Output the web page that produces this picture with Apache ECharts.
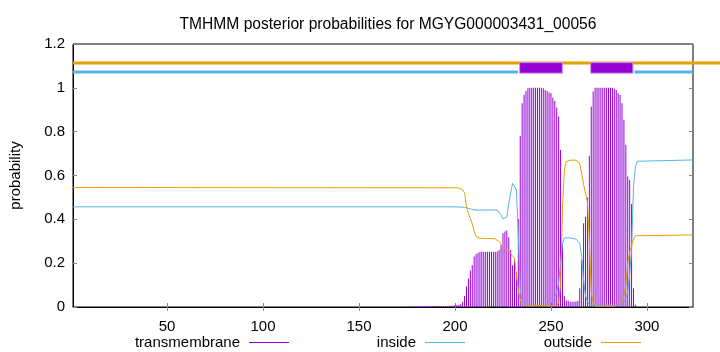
<!DOCTYPE html>
<html>
<head>
<meta charset="utf-8">
<script src="https://cdn.jsdelivr.net/npm/echarts@6/dist/echarts.min.js"></script>
<style>
  html, body { margin: 0; padding: 0; background: #fff; }
  #chart { width: 720px; height: 352px; }
</style>
</head>
<body>
<div id="chart"></div>
<script>
// posiciones (residuos) y probabilidades
var xTicks = [50, 100, 150, 200, 250, 300];

// probabilidad transmembrana por residuo (solo los no nulos)
var tmProb = [
  [175, 0.002], [176, 0.002], [177, 0.002], [178, 0.002], [179, 0.002], [180, 0.003],
  [181, 0.003], [182, 0.003], [183, 0.003], [184, 0.003], [185, 0.003], [186, 0.003],
  [187, 0.004], [188, 0.004], [189, 0.004], [190, 0.004], [191, 0.004], [192, 0.004],
  [193, 0.005], [194, 0.005], [195, 0.005], [196, 0.005], [197, 0.006], [198, 0.006],
  [199, 0.007], [200, 0.008], [201, 0.009], [202, 0.010], [203, 0.012], [204, 0.024],
  [205, 0.050], [206, 0.093], [207, 0.130], [208, 0.166], [209, 0.190], [210, 0.230],
  [211, 0.242], [212, 0.248], [213, 0.252], [214, 0.252], [215, 0.252], [216, 0.252],
  [217, 0.252], [218, 0.252], [219, 0.252], [220, 0.252], [221, 0.252], [222, 0.253],
  [223, 0.260], [224, 0.283], [225, 0.336], [226, 0.344], [227, 0.349], [228, 0.318],
  [229, 0.260], [230, 0.190], [231, 0.220], [232, 0.160], [233, 0.400], [234, 0.780],
  [235, 0.930], [236, 0.968], [237, 0.986], [238, 0.998], [239, 1.000], [240, 1.000],
  [241, 1.000], [242, 1.000], [243, 1.000], [244, 1.000], [245, 1.000], [246, 0.998],
  [247, 0.990], [248, 0.985], [249, 0.980], [250, 0.975], [251, 0.955], [252, 0.940],
  [253, 0.910], [254, 0.869], [255, 0.717], [256, 0.290], [257, 0.050], [258, 0.030],
  [259, 0.028], [260, 0.024], [261, 0.024], [262, 0.024], [263, 0.025], [264, 0.027],
  [265, 0.085], [266, 0.215], [267, 0.382], [268, 0.412], [269, 0.500], [270, 0.690],
  [271, 0.915], [272, 0.983], [273, 1.000], [274, 1.000], [275, 1.000], [276, 1.000],
  [277, 1.000], [278, 1.000], [279, 1.000], [280, 1.000], [281, 1.000], [282, 1.000],
  [283, 0.995], [284, 0.990], [285, 0.975], [286, 0.967], [287, 0.930], [288, 0.854],
  [289, 0.740], [290, 0.595], [291, 0.580], [292, 0.470], [293, 0.085], [294, 0.010]
];

// probabilidad "inside"
var insideProb = [
  [1, 0.457], [200, 0.457], [205, 0.455], [207, 0.450], [209, 0.445], [211, 0.442],
  [222, 0.443], [223, 0.435], [224, 0.420], [225, 0.402], [226, 0.395], [227, 0.410],
  [228, 0.470], [229, 0.520], [230, 0.565], [231, 0.567], [232, 0.534], [233, 0.330],
  [234, 0.080], [235, 0.025], [236, 0.015], [237, 0.010], [238, 0.007], [248, 0.007],
  [249, 0.015], [250, 0.020], [251, 0.030], [252, 0.045], [253, 0.070], [254, 0.110],
  [255, 0.200], [256, 0.290], [257, 0.316], [260, 0.315], [263, 0.310], [264, 0.305],
  [265, 0.290], [266, 0.230], [267, 0.120], [268, 0.050], [269, 0.025], [270, 0.012],
  [271, 0.006], [285, 0.006], [286, 0.012], [287, 0.018], [288, 0.025], [289, 0.040],
  [290, 0.070], [291, 0.150], [292, 0.260], [293, 0.550], [294, 0.640], [295, 0.665],
  [296, 0.670], [324, 0.671]
];

// probabilidad "outside"
var outsideProb = [
  [1, 0.545], [200, 0.544], [202, 0.543], [203, 0.541], [204, 0.535], [205, 0.520],
  [206, 0.460], [207, 0.425], [208, 0.405], [209, 0.380], [210, 0.345], [211, 0.322],
  [212, 0.316], [213, 0.314], [221, 0.311], [222, 0.305], [223, 0.298], [224, 0.285],
  [225, 0.272], [226, 0.263], [227, 0.258], [228, 0.253], [229, 0.245], [230, 0.232],
  [231, 0.222], [232, 0.150], [233, 0.078], [234, 0.032], [235, 0.015], [236, 0.010],
  [237, 0.006], [253, 0.006], [254, 0.020], [255, 0.100], [256, 0.450], [257, 0.630],
  [258, 0.663], [259, 0.666], [260, 0.670], [263, 0.670], [264, 0.668], [265, 0.655],
  [266, 0.610], [267, 0.560], [268, 0.520], [269, 0.480], [270, 0.300], [271, 0.070],
  [272, 0.015], [273, 0.004], [283, 0.004], [284, 0.008], [285, 0.012], [286, 0.018],
  [287, 0.030], [288, 0.050], [289, 0.100], [290, 0.200], [291, 0.250], [292, 0.280],
  [293, 0.310], [294, 0.325], [295, 0.329], [324, 0.329]
];

// topologia predicha (barras de arriba): [desde, hasta, y]
var outsideTop = [[1, 340, 1.113]];
var insideTop = [[1, 232.8, 1.072], [293.6, 324, 1.072]];
// helices: [desde, hasta, y arriba, y abajo]
var tmSegments = [[233.7, 255.9, 1.115, 1.067], [270.7, 292.7, 1.115, 1.067]];

var FONT = 'Liberation Sans';
var TM_COLOR = '#9400d3';
var IN_COLOR = '#56b4e9';
var OUT_COLOR = '#e69f00';

var chart = echarts.init(document.getElementById('chart'), null, { renderer: 'canvas' });

// segmento horizontal grueso (sin recorte)
function topLine(color) {
  return function (params, api) {
    var a = api.coord([api.value(0), api.value(2)]);
    var b = api.coord([api.value(1), api.value(2)]);
    return {
      type: 'line',
      shape: { x1: a[0], y1: a[1], x2: b[0], y2: b[1] },
      style: { stroke: color, lineWidth: 3 }
    };
  };
}

// una leyenda por serie, como en gnuplot (texto y luego la muestra)
function legendItem(name, color, right) {
  return {
    data: [{ name: name, itemStyle: { color: color } }],
    right: right,
    top: 330,
    align: 'right',
    icon: 'rect',
    itemWidth: 40,
    itemHeight: 1,
    selectedMode: false,
    textStyle: { fontFamily: FONT, fontSize: 15, color: '#000', padding: [0, 4, 0, 0] }
  };
}

var option = {
  animation: false,
  backgroundColor: '#fff',
  textStyle: { fontFamily: FONT },
  title: {
    text: 'TMHMM posterior probabilities for MGYG000003431_00056',
    left: 383,
    textAlign: 'center',
    top: 12,
    textStyle: { fontFamily: FONT, fontSize: 15.6, fontWeight: 'normal', color: '#000' }
  },
  legend: [
    legendItem('transmembrane', TM_COLOR, 426),
    legendItem('inside', IN_COLOR, 250),
    legendItem('outside', OUT_COLOR, 74)
  ],
  grid: {
    left: 73, right: 27, top: 44, bottom: 45,
    show: true, borderColor: '#000', borderWidth: 1
  },
  xAxis: [
    {
      type: 'value', min: 1, max: 324, position: 'bottom',
      axisLine: { show: true, lineStyle: { color: '#000' } },
      axisTick: { show: true, inside: true, length: 4, customValues: xTicks, lineStyle: { color: '#888' } },
      axisLabel: { customValues: xTicks, color: '#000', fontSize: 15, fontFamily: FONT, margin: 12 },
      splitLine: { show: false }
    },
    {
      type: 'value', min: 1, max: 324, position: 'top',
      axisLine: { show: false },
      axisTick: { show: true, inside: true, length: 4, customValues: xTicks, lineStyle: { color: '#888' } },
      axisLabel: { show: false },
      splitLine: { show: false }
    }
  ],
  yAxis: [
    {
      type: 'value', min: 0, max: 1.2, interval: 0.2,
      name: 'probability', nameLocation: 'middle', nameGap: 50, nameRotate: 90,
      nameTextStyle: { color: '#000', fontSize: 15, fontFamily: FONT },
      axisLine: { show: true, lineStyle: { color: '#000' } },
      axisTick: { show: true, inside: true, length: 4, lineStyle: { color: '#888' } },
      axisLabel: { color: '#000', fontSize: 15, fontFamily: FONT, margin: 8 },
      splitLine: { show: false }
    },
    {
      type: 'value', min: 0, max: 1.2, interval: 0.2, position: 'right',
      axisLine: { show: false },
      axisTick: { show: true, inside: true, length: 4, lineStyle: { color: '#888' } },
      axisLabel: { show: false },
      splitLine: { show: false }
    }
  ],
  series: [
    {
      name: 'transmembrane',
      type: 'bar',
      data: tmProb,
      barWidth: 1,
      itemStyle: { color: TM_COLOR },
      z: 1
    },
    {
      name: 'inside',
      type: 'line',
      data: insideProb,
      showSymbol: false,
      lineStyle: { color: IN_COLOR, width: 1 },
      itemStyle: { color: IN_COLOR },
      z: 3
    },
    {
      name: 'outside',
      type: 'line',
      data: outsideProb,
      showSymbol: false,
      lineStyle: { color: OUT_COLOR, width: 1 },
      itemStyle: { color: OUT_COLOR },
      z: 3
    },
    {
      name: 'outside-top',
      type: 'custom',
      data: outsideTop,
      encode: { x: [0, 1], y: 2 },
      renderItem: topLine(OUT_COLOR),
      z: 4
    },
    {
      name: 'inside-top',
      type: 'custom',
      data: insideTop,
      encode: { x: [0, 1], y: 2 },
      renderItem: topLine(IN_COLOR),
      z: 4
    },
    {
      name: 'tm-top',
      type: 'custom',
      data: tmSegments,
      encode: { x: [0, 1], y: [2, 3] },
      z: 5,
      renderItem: function (params, api) {
        var a = api.coord([api.value(0), api.value(2)]);
        var b = api.coord([api.value(1), api.value(3)]);
        return {
          type: 'rect',
          shape: { x: a[0], y: a[1], width: b[0] - a[0], height: b[1] - a[1] },
          style: { fill: TM_COLOR, stroke: '#c890ec', lineWidth: 1 }
        };
      }
    }
  ]
};

chart.setOption(option);
</script>
</body>
</html>
